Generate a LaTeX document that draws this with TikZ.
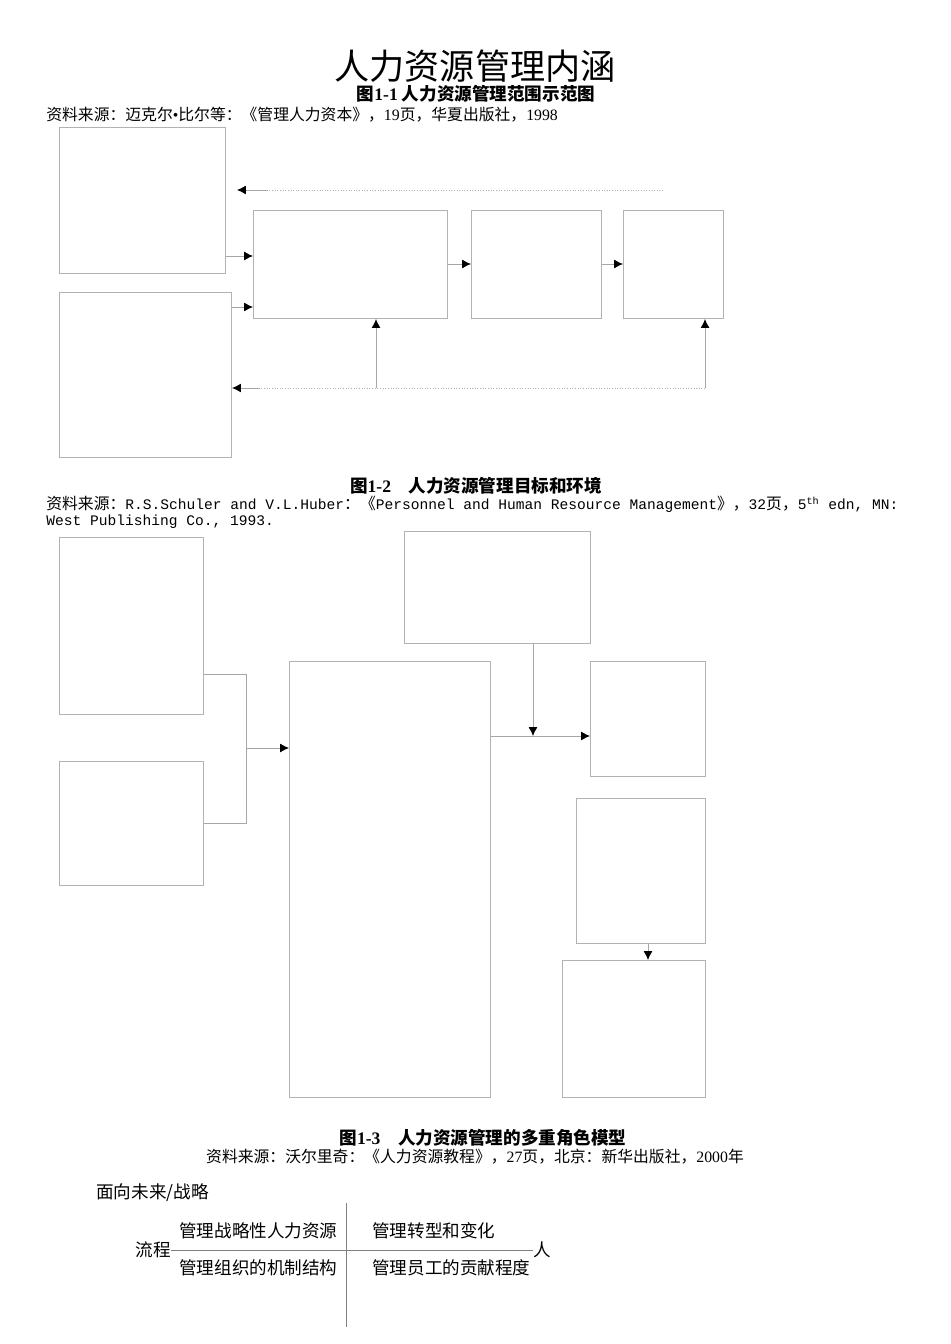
\documentclass[tikz,border=0pt]{standalone}
\usepackage{fontspec}
\setmainfont{Noto Sans CJK SC}
\newfontfamily\mono{Liberation Mono}
\newfontfamily\serifx{Liberation Serif}
\begin{document}
\begin{tikzpicture}[x=0.02cm,y=-0.02cm,
  bx/.style={draw=black!30,line width=0.6pt},
  ln/.style={draw=black!35,line width=0.5pt},
  ar/.style={ln,-{Latex[length=5pt,width=5pt,black]}},
  dt/.style={draw=black!30,line width=0.5pt,densely dotted},
  tx/.style={inner sep=0pt,font=\fontsize{10pt}{11pt}\selectfont},
  src/.style={inner sep=0pt,anchor=west,font=\fontsize{9pt}{10pt}\selectfont}]
\usetikzlibrary{arrows.meta}
\fill[white] (0,0) rectangle (950,1344);
\useasboundingbox (0,0) rectangle (950,1344);
\node[inner sep=0pt,font=\fontsize{20pt}{21pt}\selectfont] (title) at (475,66) {人力资源管理内涵};
\node[inner sep=0pt,font=\bfseries\fontsize{10pt}{11pt}\selectfont] (cap1) at (476,94) {图{\serifx 1-1} 人力资源管理范围示范图};
\node[src] (src1) at (46,115) {资料来源：迈克尔{\serifx •}比尔等：《管理人力资本》，{\serifx 19}页，华夏出版社，{\serifx 1998}};
% fig 1
\node[bx,minimum width=166*0.02cm,minimum height=146*0.02cm,anchor=north west] (A) at (59,127) {};
\node[bx,minimum width=194*0.02cm,minimum height=108*0.02cm,anchor=north west] (B) at (253,210) {};
\node[bx,minimum width=130*0.02cm,minimum height=108*0.02cm,anchor=north west] (C) at (471,210) {};
\node[bx,minimum width=100*0.02cm,minimum height=108*0.02cm,anchor=north west] (D) at (623,210) {};
\node[bx,minimum width=172*0.02cm,minimum height=165*0.02cm,anchor=north west] (E) at (59,292) {};
\coordinate (fb1) at (663,190);
\coordinate (fb1a) at (268,190);
\coordinate (fb1b) at (237,190);
\draw[dt] (fb1) -- (fb1a);
\draw[ar] (fb1a) -- (fb1b);
\draw[ar] (A.east |- 0,256) -- (B.west |- 0,256);
\draw[ar] (E.east |- 0,307) -- (B.west |- 0,307);
\draw[ar] (B.east |- 0,264) -- (C.west |- 0,264);
\draw[ar] (C.east |- 0,264) -- (D.west |- 0,264);
\coordinate (p1) at (376,388);
\coordinate (p2) at (705,388);
\draw[ar] (p1) -- (B.south -| p1);
\draw[ar] (p2) -- (D.south -| p2);
\draw[dt] (p2) -- (p1) -- (260,388);
\draw[ar] (260,388) -- (E.east |- p1);
% fig 2
\node[inner sep=0pt,font=\bfseries\fontsize{10pt}{11pt}\selectfont] (cap2) at (476,486) {图{\serifx 1-2}\quad 人力资源管理目标和环境};
\node[src] (src2) at (46,504) {资料来源：{\mono\fontsize{8.3pt}{10pt}\selectfont R.S.Schuler and V.L.Huber}：《{\mono\fontsize{8.3pt}{10pt}\selectfont Personnel and Human Resource Management}》，{\mono\fontsize{8.3pt}{10pt}\selectfont 32}页，{\mono\fontsize{8.3pt}{10pt}\selectfont 5\textsuperscript{th} edn, MN:}};
\node[src] (src2b) at (46,522) {\mono\fontsize{8.3pt}{10pt}\selectfont West Publishing Co., 1993.};
\node[bx,minimum width=144*0.02cm,minimum height=177*0.02cm,anchor=north west] (L1) at (59,537) {};
\node[bx,minimum width=144*0.02cm,minimum height=124*0.02cm,anchor=north west] (L2) at (59,761) {};
\node[bx,minimum width=201*0.02cm,minimum height=436*0.02cm,anchor=north west] (M) at (289,661) {};
\node[bx,minimum width=186*0.02cm,minimum height=112*0.02cm,anchor=north west] (T) at (404,531) {};
\node[bx,minimum width=115*0.02cm,minimum height=115*0.02cm,anchor=north west] (R1) at (590,661) {};
\node[bx,minimum width=129*0.02cm,minimum height=145*0.02cm,anchor=north west] (R2) at (576,798) {};
\node[bx,minimum width=143*0.02cm,minimum height=137*0.02cm,anchor=north west] (R3) at (562,960) {};
\coordinate (j1) at (246,674);
\coordinate (j2) at (246,823);
\coordinate (j3) at (246,748);
\coordinate (j4) at (533,736);
\draw[ln] (L1.east |- j1) -- (j1) -- (j2) -- (L2.east |- j2);
\draw[ar] (j3) -- (M.west |- j3);
\draw[ar] (M.east |- j4) -- (R1.west |- j4);
\draw[ar] (T.south -| j4) -- (j4);
\draw[ar] (R2.south -| 648,0) -- (R3.north -| 648,0);
% fig 3
\node[inner sep=0pt,font=\bfseries\fontsize{10pt}{11pt}\selectfont] (cap3) at (483,1138) {图{\serifx 1-3}\quad 人力资源管理的多重角色模型};
\node[inner sep=0pt,font=\fontsize{9pt}{10pt}\selectfont] (src3) at (475,1157) {资料来源：沃尔里奇：《人力资源教程》，{\serifx 27}页，北京：新华出版社，{\serifx 2000}年};
\node[tx,anchor=west] (fut) at (96,1193) {面向未来/战略};
\coordinate (v1) at (346,1203);
\coordinate (v2) at (346,1327);
\draw[draw=black!50,line width=0.5pt] (v1) -- (v2);
\node[tx,anchor=east] (proc) at (171,1250) {流程};
\node[tx,anchor=west] (ren) at (533,1250) {人};
\draw[draw=black!50,line width=0.5pt] (proc.east) -- (ren.west);
\node[tx,anchor=west] (q1) at (179,1231) {管理战略性人力资源};
\node[tx,anchor=west] (q2) at (372,1231) {管理转型和变化};
\node[tx,anchor=west] (q3) at (179,1268) {管理组织的机制结构};
\node[tx,anchor=west] (q4) at (372,1268) {管理员工的贡献程度};
\end{tikzpicture}
\end{document}
